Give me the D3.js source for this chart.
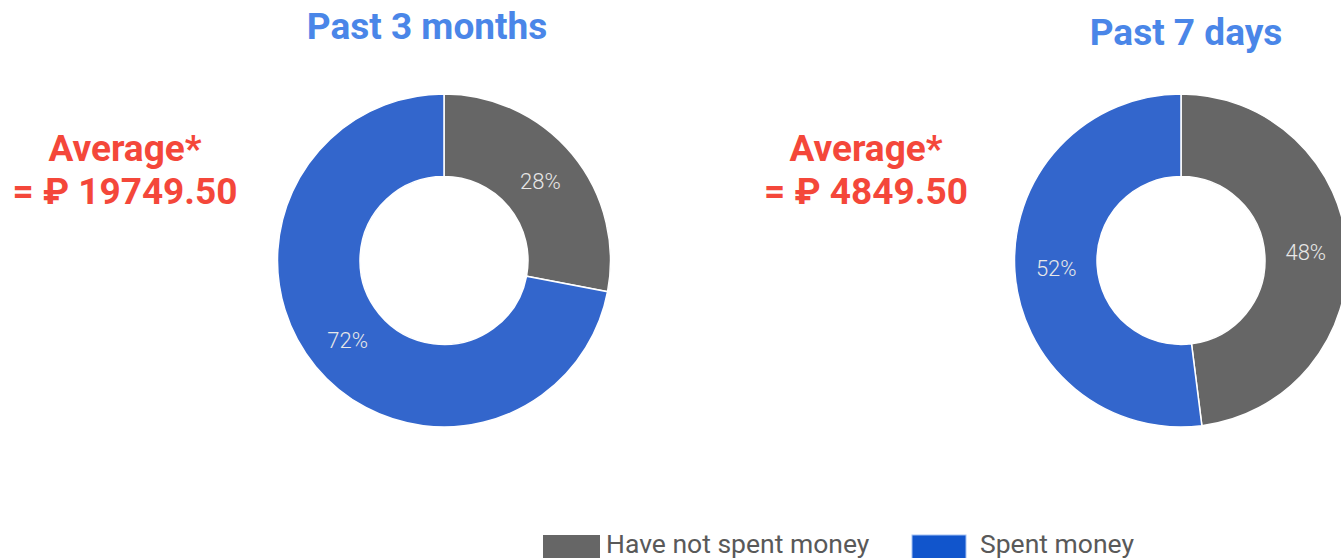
<!DOCTYPE html>
<html>
<head>
<meta charset="utf-8">
<script src="https://cdn.jsdelivr.net/npm/d3@7"></script>
<style>
  html, body { margin: 0; padding: 0; background: #fff; overflow: hidden; }
  svg { display: block; font-family: Roboto, "Noto Sans", sans-serif; }
</style>
</head>
<body>
<div id="chart"></div>
<script>
(function runApp() {
  const width = 1341;
  const height = 558;

  // data
  const categories = ["Have not spent money", "Spent money"];
  const periods = ["Past 3 months", "Past 7 days"];
  const shares3Months = [28, 72];
  const shares7Days = [48, 52];
  const averages = ["19749.50", "4849.50"];

  const sliceColors = ["#666666", "#3366cc"];
  const legendColors = ["#666666", "#1155cc"];

  const svg = d3.select("#chart")
    .append("svg")
    .attr("width", width)
    .attr("height", height);

  const panels = [
    { title: periods[0], values: shares3Months, avg: averages[0],
      cx: 444, cy: 260.5, titleX: 427, titleY: 39, avgX: 125 },
    { title: periods[1], values: shares7Days, avg: averages[1],
      cx: 1181, cy: 260.5, titleX: 1186, titleY: 45, avgX: 866 },
  ];

  const outerR = 166.5;
  const innerR = 84;
  const labelR = 125;

  const pie = d3.pie().sort(null).value((d) => d);
  const arc = d3.arc().innerRadius(innerR).outerRadius(outerR);
  const labelArc = d3.arc().innerRadius(labelR).outerRadius(labelR);

  panels.forEach((p) => {
    const g = svg.append("g").attr("transform", `translate(${p.cx},${p.cy})`);
    const arcs = pie(p.values);

    g.selectAll("path")
      .data(arcs)
      .join("path")
      .attr("d", arc)
      .attr("fill", (d, i) => sliceColors[i])
      .attr("stroke", "#ffffff")
      .attr("stroke-width", 1.5);

    g.selectAll(".slice-label")
      .data(arcs)
      .join("text")
      .attr("class", "slice-label")
      .attr("transform", (d) => `translate(${labelArc.centroid(d)})`)
      .attr("text-anchor", "middle")
      .attr("dy", "0.35em")
      .attr("font-size", "22px")
      .attr("font-weight", 300)
      .attr("fill", "#e8e8e8")
      .text((d) => `${d.data}%`);

    svg.append("text")
      .attr("x", p.titleX)
      .attr("y", p.titleY)
      .attr("text-anchor", "middle")
      .attr("font-size", "37px")
      .attr("font-weight", "bold")
      .attr("fill", "#4a86e8")
      .text(p.title);

    const avg = svg.append("text")
      .attr("text-anchor", "middle")
      .attr("font-size", "37px")
      .attr("font-weight", "bold")
      .attr("fill", "#f4473a");
    avg.append("tspan").attr("x", p.avgX).attr("y", 161).text("Average*");
    avg.append("tspan").attr("x", p.avgX).attr("y", 204).text(`= \u20BD ${p.avg}`);
  });

  // legend
  const legendItems = [
    { label: categories[0], color: legendColors[0], sx: 543, sw: 57, tx: 606 },
    { label: categories[1], color: legendColors[1], sx: 912, sw: 54, tx: 980 },
  ];
  legendItems.forEach((l) => {
    svg.append("rect")
      .attr("x", l.sx)
      .attr("y", 535)
      .attr("width", l.sw)
      .attr("height", 30)
      .attr("fill", l.color)
      .attr("stroke", l.color === "#1155cc" ? "#a4c2f4" : "none")
      .attr("stroke-width", 1);
    svg.append("text")
      .attr("x", l.tx)
      .attr("y", 553)
      .attr("font-size", "26.5px")
      .attr("fill", "#595959")
      .text(l.label);
  });
})();
</script>
</body>
</html>
